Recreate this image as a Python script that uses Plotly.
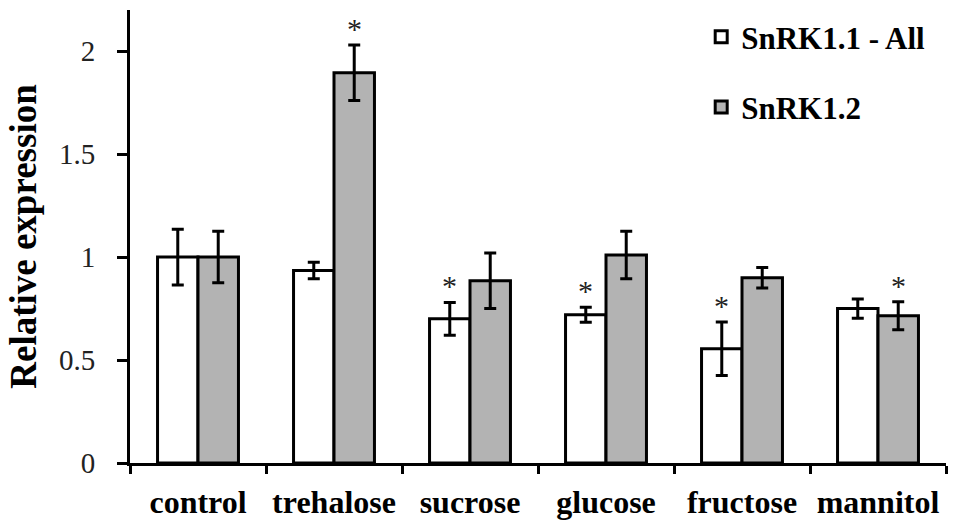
import plotly.graph_objects as go

categories = ["control", "trehalose", "sucrose", "glucose", "fructose", "mannitol"]
snrk11_all = [1.00, 0.935, 0.70, 0.72, 0.555, 0.75]
snrk11_err = [0.135, 0.04, 0.08, 0.037, 0.13, 0.047]
snrk12 = [1.00, 1.895, 0.885, 1.01, 0.90, 0.715]
snrk12_err = [0.125, 0.135, 0.135, 0.115, 0.05, 0.068]
sig11 = [False, False, True, True, True, False]
sig12 = [False, True, False, False, False, True]
yticks = [0, 0.5, 1, 1.5, 2]
series_names = ["SnRK1.1 - All", "SnRK1.2"]

SERIF = "Liberation Serif"
BARGAP = 0.405
half = (1 - BARGAP) / 4.0  # offset of each bar centre from category centre

fig = go.Figure()
fig.add_trace(go.Bar(
    x=list(range(len(categories))), y=snrk11_all, name="<b>" + series_names[0] + "</b>", legendgroup="a",
    marker=dict(color="white", line=dict(color="black", width=3)),
    error_y=dict(type="data", array=snrk11_err, color="black", thickness=3, width=6),
))
fig.add_trace(go.Bar(
    x=list(range(len(categories))), y=snrk12, name="<b>" + series_names[1] + "</b>", legendgroup="b",
    marker=dict(color="#b3b3b3", line=dict(color="black", width=3)),
    error_y=dict(type="data", array=snrk12_err, color="black", thickness=3, width=6),
))

annotations = []
for i, c in enumerate(categories):
    if sig11[i]:
        annotations.append(dict(x=i - half, y=snrk11_all[i] + snrk11_err[i], xref="x", yref="y",
                                text="*", showarrow=False, yanchor="bottom", yshift=-2,
                                font=dict(family=SERIF, size=30, color="#222")))
    if sig12[i]:
        annotations.append(dict(x=i + half, y=snrk12[i] + snrk12_err[i], xref="x", yref="y",
                                text="*", showarrow=False, yanchor="bottom", yshift=-2,
                                font=dict(family=SERIF, size=30, color="#222")))

fig.update_layout(
    width=959, height=529,
    margin=dict(l=130, r=13, t=10, b=66),
    paper_bgcolor="white", plot_bgcolor="white",
    barmode="group", bargap=BARGAP, bargroupgap=0,
    font=dict(family=SERIF, color="black"),
    showlegend=True,
    legend=dict(x=0.700, y=1.0, xanchor="left", yanchor="top",
                font=dict(family=SERIF, size=31, color="black"),
                bgcolor="rgba(0,0,0,0)", tracegroupgap=27, itemwidth=30),
    annotations=annotations,
    xaxis=dict(
        tickmode="array", tickvals=list(range(len(categories))),
        ticktext=["<b>" + c + "</b>" for c in categories],
        showline=True, linecolor="black", linewidth=3,
        ticks="", showgrid=False, zeroline=False, range=[-0.5, 5.5],
        minor=dict(tickmode="array", tickvals=[i + 0.5 for i in range(-1, len(categories))],
                   ticks="outside", ticklen=8, tickwidth=3, tickcolor="black", showgrid=False),
        tickfont=dict(family=SERIF, size=32, color="black"),
        ticklabelstandoff=9,
    ),
    yaxis=dict(
        range=[0, 2.2], tickvals=yticks, ticktext=["0", "0.5", "1", "1.5", "2"],
        showline=True, linecolor="black", linewidth=3,
        ticks="outside", ticklen=10, tickwidth=3, tickcolor="black",
        tickfont=dict(family=SERIF, size=29, color="#222"),
        ticklabelstandoff=16,
        showgrid=False, zeroline=False,
        title=dict(text="<b>Relative expression</b>", standoff=12,
                   font=dict(family=SERIF, size=37, color="black")),
    ),
)

fig.write_html("out.html")
